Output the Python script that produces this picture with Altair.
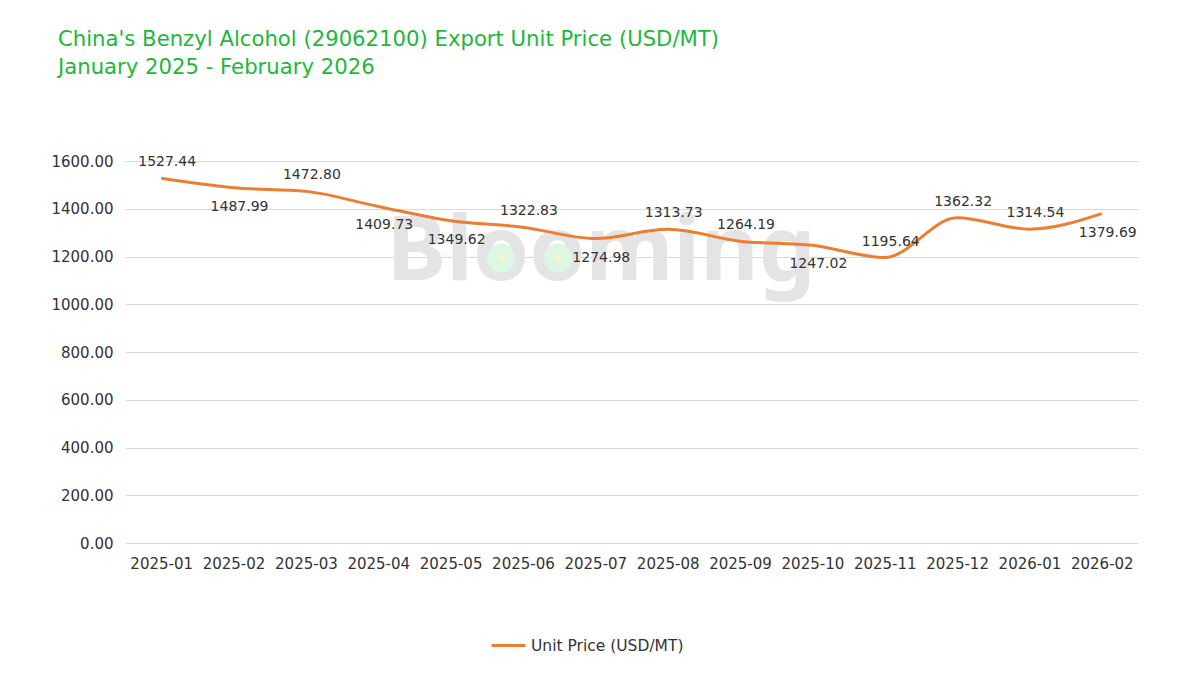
import altair as alt
import pandas as pd

months = ["2025-01", "2025-02", "2025-03", "2025-04", "2025-05", "2025-06", "2025-07",
          "2025-08", "2025-09", "2025-10", "2025-11", "2025-12", "2026-01", "2026-02"]
prices = [1527.44, 1487.99, 1472.80, 1409.73, 1349.62, 1322.83, 1274.98,
          1313.73, 1264.19, 1247.02, 1195.64, 1362.32, 1314.54, 1379.69]
# label placement relative to the point (style)
label_side = ["above", "below", "above", "below", "below", "above", "below",
              "above", "above", "below", "above", "above", "above", "below"]

series_name = "Unit Price (USD/MT)"
df = pd.DataFrame({"month": months, "price": prices, "side": label_side,
                   "series": [series_name] * len(months)})

FONT = "DejaVu Sans"
W, H = 1013, 382
xscale = alt.Scale(type="point", padding=0.5)

xenc = alt.X("month:O", sort=months, scale=xscale,
             axis=alt.Axis(title=None, labelAngle=0, labelFontSize=15, labelColor="#333333",
                           labelFont=FONT, labelPadding=13, ticks=False, domain=False, grid=False))
yenc = alt.Y("price:Q", scale=alt.Scale(domain=[0, 1600], nice=False),
             axis=alt.Axis(title=None, values=[0, 200, 400, 600, 800, 1000, 1200, 1400, 1600],
                           format=".2f", labelFontSize=15, labelColor="#333333", labelFont=FONT,
                           labelPadding=12, ticks=False, domain=False, gridColor="#d9d9d9"))

watermark = alt.Chart(pd.DataFrame({"t": ["Blooming"]})).mark_text(
    fontSize=90, font="Noto Sans", fontWeight="bold", color="#e4e4e4",
    align="center", baseline="middle"
).encode(text="t:N", x=alt.value(476), y=alt.value(92))

dots_outer = alt.Chart(pd.DataFrame({"px": [376, 433]})).mark_point(
    filled=True, shape="circle", size=800, color="#dcf7e4", opacity=1
).encode(x=alt.X("px:Q", scale=None), y=alt.value(97))
dots_inner = alt.Chart(pd.DataFrame({"px": [376, 433]})).mark_point(
    filled=True, shape="circle", size=70, color="#f6f7c8", opacity=1
).encode(x=alt.X("px:Q", scale=None), y=alt.value(97))

line = alt.Chart(df).mark_line(interpolate="monotone", strokeWidth=3, color="#ED7D31").encode(
    x=xenc, y=yenc,
    color=alt.Color("series:N", scale=alt.Scale(range=["#ED7D31"]),
                    legend=alt.Legend(title=None, orient="none", legendX=365, legendY=H + 84,
                                      symbolType="stroke", symbolStrokeWidth=3, symbolSize=1150,
                                      labelFontSize=15.5, labelColor="#333333", labelFont=FONT))
)

above = alt.Chart(df).transform_filter(alt.datum.side == "above").mark_text(
    fontSize=14, color="#333333", font=FONT, dy=-16, dx=6).encode(
    x=alt.X("month:O", sort=months, scale=xscale),
    y="price:Q", text=alt.Text("price:Q", format=".2f"))
below = alt.Chart(df).transform_filter(alt.datum.side == "below").mark_text(
    fontSize=14, color="#333333", font=FONT, dy=19, dx=6).encode(
    x=alt.X("month:O", sort=months, scale=xscale),
    y="price:Q", text=alt.Text("price:Q", format=".2f"))

chart = alt.layer(watermark, dots_outer, dots_inner, line, above, below).properties(
    width=W, height=H,
    autosize=alt.AutoSizeParams(type="none"),
    padding={"left": 125, "top": 161, "right": 62, "bottom": 132},
    title=alt.TitleParams(
        text=["China's Benzyl Alcohol (29062100) Export Unit Price (USD/MT)",
              "January 2025 - February 2026"],
        anchor="start", frame="group", dx=-67, offset=76, fontSize=21.2, font=FONT,
        fontWeight="normal", color="#1DB83A", lineHeight=28)
).configure_view(stroke=None)

chart.save("out.html", embed_options={"renderer": "svg", "actions": False})
